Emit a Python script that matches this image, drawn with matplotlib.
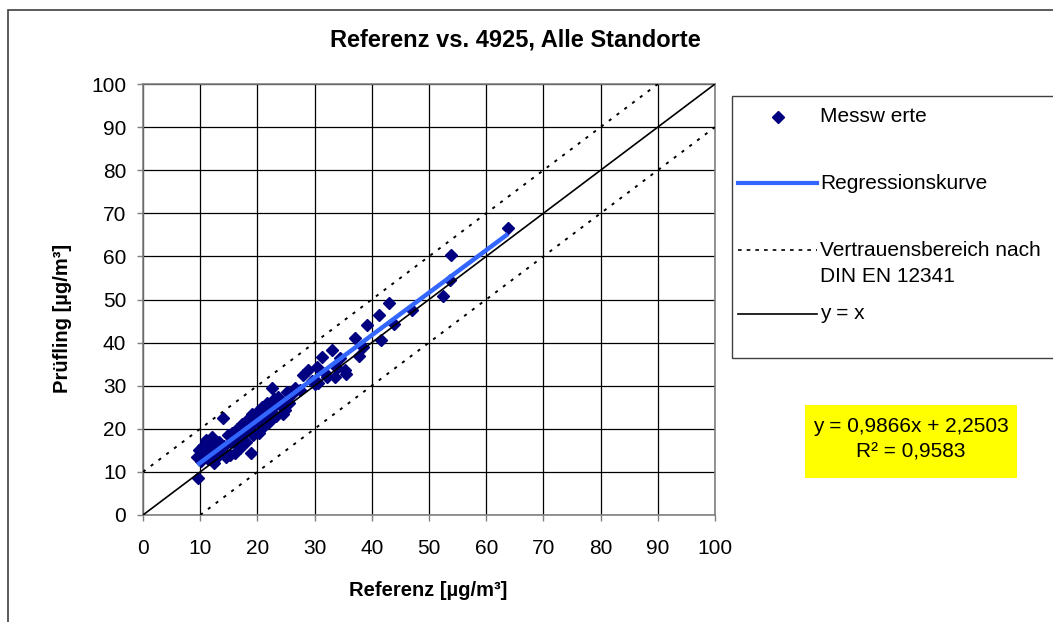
import matplotlib.pyplot as plt
from matplotlib.lines import Line2D
from matplotlib.patches import Rectangle

plt.rcParams['font.family'] = ['Liberation Sans', 'DejaVu Sans']

# Messwerte: Referenz (x) vs. Pruefling (y), in ug/m3
ref = [9.5, 9.6, 9.8, 10.2, 10.5, 10.8, 11.0, 11.3, 11.6, 12.0,
       12.2, 12.4, 12.8, 13.0, 13.3, 13.6, 14.0, 14.2, 14.5, 14.8,
       15.2, 15.3, 15.6, 16.0, 16.2, 16.5, 16.8, 17.0, 17.3, 17.6,
       18.0, 18.2, 18.5, 18.9, 19.0, 19.3, 19.6, 20.0, 20.2, 20.5,
       20.8, 21.0, 21.3, 21.6, 22.0, 22.3, 22.6, 22.9, 23.2, 23.6,
       24.0, 24.5, 24.8, 25.2, 25.5, 26.0, 26.6, 27.5, 28.0, 28.8,
       29.5, 30.0, 30.4, 30.6, 31.3, 31.8, 32.2, 33.0, 33.6, 33.9,
       34.5, 35.3, 35.5, 37.0, 37.8, 38.5, 39.2, 41.3, 41.6, 43.0,
       43.9, 47.0, 52.5, 53.7, 53.8, 63.8]
pruef = [13.5, 8.6, 15.0, 12.5, 16.0, 14.0, 17.5, 13.0, 15.5, 18.0,
         14.5, 12.0, 16.5, 13.5, 17.0, 15.0, 22.5, 16.0, 13.5, 18.5,
         13.9, 17.0, 19.0, 14.5, 16.5, 20.0, 18.0, 15.5, 21.0, 19.5,
         17.0, 22.0, 20.5, 14.5, 23.5, 18.5, 21.5, 24.0, 19.0, 22.5,
         25.0, 20.5, 23.0, 26.0, 21.5, 24.5, 29.5, 27.0, 23.0, 27.4,
         25.5, 23.5, 24.4, 28.5, 26.0, 28.0, 29.5, 29.0, 32.5, 33.6,
         31.0, 30.5, 34.3, 30.6, 36.7, 33.0, 32.0, 38.3, 32.0, 34.1,
         36.5, 33.6, 32.7, 41.0, 36.9, 39.0, 44.1, 46.4, 40.6, 49.2,
         44.3, 47.6, 50.8, 54.5, 60.3, 66.6]

slope = 0.9866
intercept = 2.2503
r2 = 0.9583
band = 10
ticks = list(range(0, 101, 10))

W, H = 1053, 622
fig = plt.figure(figsize=(W / 100, H / 100), dpi=100)


def fx(x):
    return x / W


def fy(y):
    return 1 - y / H


# outer chart border (cut off at right and bottom, as in the original)
fig.add_artist(Rectangle((fx(8), -0.1), 1.2, fy(10) + 0.1, transform=fig.transFigure,
                         fill=False, edgecolor='#404040', lw=1.2))

ax = fig.add_axes([fx(143), fy(515), fx(715) - fx(143), fy(84) - fy(515)])

ax.plot(ref, pruef, 'D', color='#000080', mec='#000080', ms=6.5, zorder=3)

xr = [min(ref), max(ref)]
ax.plot(xr, [slope * x + intercept for x in xr], color='#3366FF', lw=3.2,
        solid_capstyle='butt', zorder=4)

dots = (0, (1.6, 3.4))
ax.plot([0, 100 - band], [band, 100], color='black', lw=1.4, ls=dots, zorder=4)
ax.plot([band, 100], [0, 100 - band], color='black', lw=1.4, ls=dots, zorder=4)
ax.plot([0, 100], [0, 100], color='black', lw=1.2, zorder=4)

ax.set_xlim(0, 100)
ax.set_ylim(0, 100)
ax.set_xticks(ticks)
ax.set_yticks(ticks)
ax.grid(True, color='black', lw=0.9)
ax.set_axisbelow(True)
for s in ax.spines.values():
    s.set_color('#808080')
    s.set_linewidth(1.2)
ax.tick_params(direction='out', length=4, width=1, color='#808080', labelsize=15)
ax.tick_params(axis='x', pad=13)
ax.tick_params(axis='y', pad=8)

fig.text(0.489, fy(40), 'Referenz vs. 4925, Alle Standorte', ha='center', va='center',
         fontsize=17, fontweight='bold')
fig.text(fx(428), fy(590), 'Referenz [µg/m³]', ha='center', va='center',
         fontsize=14.5, fontweight='bold')
fig.text(fx(62), fy(318), 'Prüfling [µg/m³]', ha='center', va='center', rotation=90,
         fontsize=14.5, fontweight='bold')

# legend box
fig.add_artist(Rectangle((fx(732), fy(358)), 1.0, fy(96) - fy(358), transform=fig.transFigure,
                         fill=True, facecolor='white', edgecolor='#404040', lw=1))
lx0, lx1, tx = fx(738), fx(817), fx(820)
fig.add_artist(Line2D([fx(778)], [fy(117)], marker='D', color='#000080', ms=6,
                      transform=fig.transFigure))
fig.add_artist(Line2D([lx0, lx1], [fy(183)] * 2, color='#3366FF', lw=3,
                      transform=fig.transFigure))
fig.add_artist(Line2D([lx0, lx1], [fy(250)] * 2, color='black', lw=1.2, ls=(0, (2.2, 3)),
                      transform=fig.transFigure))
fig.add_artist(Line2D([lx0, lx1], [fy(314)] * 2, color='black', lw=1.2,
                      transform=fig.transFigure))
leg_fs = 15
fig.text(tx, fy(117), 'Messw erte', va='center', fontsize=leg_fs)
fig.text(tx, fy(183), 'Regressionskurve', va='center', fontsize=leg_fs)
fig.text(tx, fy(250), 'Vertrauensbereich nach', va='center', fontsize=leg_fs)
fig.text(tx, fy(276), 'DIN EN 12341', va='center', fontsize=leg_fs)
fig.text(tx, fy(314), 'y = x', va='center', fontsize=leg_fs)

# equation box
fig.add_artist(Rectangle((fx(805), fy(478)), fx(1017) - fx(805), fy(405) - fy(478),
                         transform=fig.transFigure, facecolor='#FFFF00', edgecolor='none'))
fig.text(fx(911), fy(426), 'y = 0,9866x + 2,2503', ha='center', va='center', fontsize=leg_fs)
fig.text(fx(911), fy(452), 'R² = 0,9583', ha='center', va='center', fontsize=leg_fs)

fig.savefig('out.png', dpi=100)
